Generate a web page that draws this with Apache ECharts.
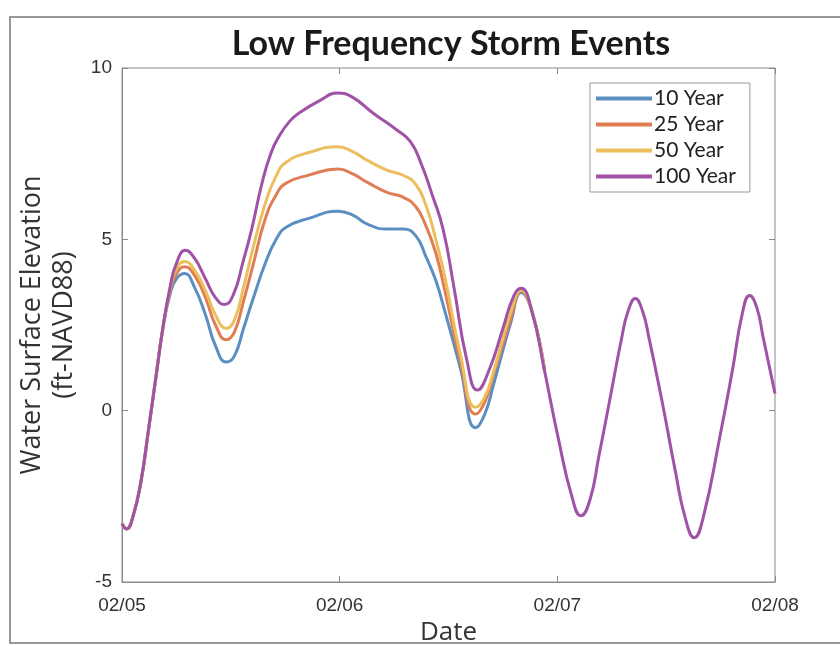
<!DOCTYPE html>
<html>
<head>
<meta charset="utf-8">
<script src="https://cdn.jsdelivr.net/npm/echarts@6/dist/echarts.min.js"></script>
<style>
  html, body { margin: 0; padding: 0; background: #fff; }
  #chart { width: 840px; height: 646px; }
</style>
</head>
<body>
<div id="chart"></div>
<script>
// hours since 02/05 00:00, values in ft-NAVD88
const hours100 = [0, 0.5, 1.2, 2.1, 2.9, 3.7, 4.5, 5.3, 6.0, 7.0, 8.0, 9.2, 10.3, 11.3, 12.3, 13.3, 14.3, 15.4, 16.4, 17.3, 18.5, 19.6, 21.8, 23.8, 25.4, 27.7, 30.3, 31.8, 33.0, 34.2, 35.4, 36.6, 38.0, 39.2, 40.5, 42.0, 43.2, 44.0, 45.2, 46.6, 48.1, 49.6, 50.6, 51.6, 52.6, 53.7, 55.1, 55.8, 56.6, 57.4, 58.1, 59.6, 61.0, 62.1, 63.1, 64.1, 65.9, 67.3, 68.4, 69.2, 70.0, 70.7, 72];
const year100 = [-3.3, -3.45, -3.1, -2.05, -0.6, 0.9, 2.4, 3.6, 4.3, 4.68, 4.45, 3.85, 3.3, 3.1, 3.4, 4.3, 5.3, 6.6, 7.5, 8.0, 8.45, 8.7, 9.05, 9.27, 9.15, 8.68, 8.19, 7.85, 7.2, 6.3, 5.3, 3.6, 1.5, 0.6, 1.2, 2.4, 3.35, 3.57, 2.9, 1.15, -0.8, -2.5, -3.07, -2.6, -1.3, 0.2, 2.13, 2.9, 3.27, 2.9, 2.13, 0.2, -1.75, -3.13, -3.71, -3.1, -0.79, 1.17, 2.84, 3.36, 3.0, 2.13, 0.5];

const hoursLow = [0, 0.5, 1.2, 2.1, 2.9, 3.7, 4.5, 5.3, 6.0, 6.9, 8.0, 9.2, 10.3, 11.5, 12.4, 13.4, 14.5, 15.8, 17.0, 18.1, 20.7, 23.8, 25.5, 27.0, 29.2, 31.0, 32.4, 33.5, 34.6, 35.6, 37.3, 39.0, 40.0, 41.0, 42.9, 44.0, 45.2, 46.6];
const year10 = [-3.3, -3.45, -3.1, -2.05, -0.6, 0.9, 2.4, 3.4, 3.85, 4.0, 3.6, 2.8, 1.9, 1.42, 1.6, 2.4, 3.3, 4.3, 5.0, 5.35, 5.62, 5.82, 5.7, 5.45, 5.3, 5.3, 5.1, 4.5, 3.8, 2.9, 1.25, -0.5, -0.1, 0.8, 2.6, 3.45, 2.9, 1.15];
const year25 = [-3.3, -3.45, -3.1, -2.05, -0.6, 0.9, 2.4, 3.5, 4.0, 4.2, 3.95, 3.3, 2.5, 2.07, 2.3, 3.2, 4.3, 5.6, 6.3, 6.64, 6.88, 7.05, 6.9, 6.67, 6.37, 6.23, 5.95, 5.4, 4.6, 3.5, 1.45, -0.1, 0.25, 1.08, 2.72, 3.5, 2.9, 1.15];
const year50 = [-3.3, -3.45, -3.1, -2.05, -0.6, 0.9, 2.4, 3.55, 4.15, 4.35, 4.1, 3.5, 2.8, 2.4, 2.65, 3.6, 4.8, 6.05, 6.85, 7.25, 7.54, 7.7, 7.55, 7.31, 7.02, 6.87, 6.6, 6.0, 5.0, 3.9, 1.65, 0.1, 0.4, 1.17, 2.9, 3.52, 2.9, 1.15];

const dateLabels = ["02/05", "02/06", "02/07", "02/08"];
const seriesNames = ["10 Year", "25 Year", "50 Year", "100 Year"];
const colors = ["#5b8fc2", "#e17d55", "#ecbf5e", "#a052a6"];

const pairs = (xs, ys) => xs.map((x, i) => [x, ys[i]]);
const seriesData = [
  pairs(hoursLow, year10),
  pairs(hoursLow, year25),
  pairs(hoursLow, year50),
  pairs(hours100, year100),
];

const chart = echarts.init(document.getElementById("chart"));

const tickFont = { fontFamily: "Liberation Sans", fontSize: 19, color: "#333" };
const axisGrey = "#8a8a8a";

chart.setOption({
  animation: false,
  color: colors,
  title: {
    text: "Low Frequency Storm Events",
    left: 446,
    textAlign: "center",
    top: 22,
    textStyle: { fontFamily: "Lato", fontWeight: "bold", fontSize: 34, color: "#1a1a1a" },
  },
  graphic: [
    {
      type: "rect",
      shape: { x: 10, y: 17, width: 840, height: 626 },
      style: { fill: "none", stroke: "#777", lineWidth: 1.5 },
      silent: true,
    },
  ],
  grid: {
    left: 122,
    right: 65,
    top: 68,
    bottom: 64,
    outerBoundsMode: "none",
    show: true,
    borderColor: axisGrey,
    borderWidth: 1,
  },
  legend: {
    orient: "vertical",
    left: 590,
    top: 83,
    icon: "rect",
    itemWidth: 56,
    itemHeight: 4,
    itemGap: 5,
    padding: [5, 14, 5, 6],
    borderColor: "#999",
    borderWidth: 1,
    backgroundColor: "#fff",
    textStyle: { fontFamily: "Lato", fontSize: 21, color: "#222", padding: [0, 0, 0, -3] },
    data: seriesNames,
  },
  xAxis: [
    {
      type: "value",
      min: 0,
      max: 72,
      interval: 24,
      name: "Date",
      nameLocation: "middle",
      nameGap: 36,
      nameTextStyle: { fontFamily: "Open Sans", fontSize: 26, color: "#333" },
      axisLine: { show: true, onZero: false, lineStyle: { color: axisGrey } },
      axisTick: { inside: true, length: 6, lineStyle: { color: axisGrey } },
      axisLabel: Object.assign({ margin: 14, formatter: (v) => dateLabels[v / 24] }, tickFont),
      splitLine: { show: false },
    },
    {
      type: "value",
      position: "top",
      min: 0,
      max: 72,
      interval: 24,
      axisLine: { show: false, onZero: false },
      axisTick: { inside: true, length: 6, lineStyle: { color: axisGrey } },
      axisLabel: { show: false },
      splitLine: { show: false },
    },
  ],
  yAxis: [
    {
      type: "value",
      min: -5,
      max: 10,
      interval: 5,
      name: "Water Surface Elevation\n(ft-NAVD88)",
      nameLocation: "middle",
      nameGap: 42,
      nameTextStyle: { fontFamily: "Open Sans", fontSize: 27, color: "#333", lineHeight: 32 },
      axisLine: { show: true, onZero: false, lineStyle: { color: axisGrey } },
      axisTick: { inside: true, length: 6, lineStyle: { color: axisGrey } },
      axisLabel: Object.assign({ margin: 10 }, tickFont),
      splitLine: { show: false },
    },
    {
      type: "value",
      position: "right",
      min: -5,
      max: 10,
      interval: 5,
      axisLine: { show: false, onZero: false },
      axisTick: { inside: true, length: 6, lineStyle: { color: axisGrey } },
      axisLabel: { show: false },
      splitLine: { show: false },
    },
  ],
  series: seriesNames.map((name, i) => ({
    name,
    type: "line",
    data: seriesData[i],
    showSymbol: false,
    smooth: 0.5,
    lineStyle: { width: 3, color: colors[i] },
    z: 2 + i,
  })),
});
</script>
</body>
</html>
